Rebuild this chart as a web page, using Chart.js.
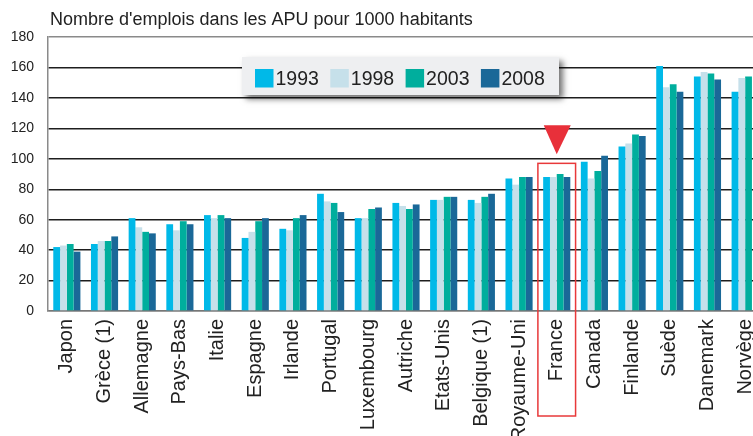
<!DOCTYPE html>
<html>
<head>
<meta charset="utf-8">
<script src="https://cdn.jsdelivr.net/npm/chart.js@4.4.1/dist/chart.umd.min.js"></script>
<style>
  html, body { margin: 0; padding: 0; background: #fff; overflow: hidden; }
  #wrap { position: relative; width: 764px; height: 436px; }
</style>
</head>
<body>
<div id="wrap"><canvas id="chart"></canvas></div>
<script>
// Data
const categories = ['Japon', 'Grèce (1)', 'Allemagne', 'Pays-Bas', 'Italie', 'Espagne', 'Irlande',
  'Portugal', 'Luxembourg', 'Autriche', 'Etats-Unis', 'Belgique (1)', 'Royaume-Uni', 'France',
  'Canada', 'Finlande', 'Suède', 'Danemark', 'Norvège'];
const years = ['1993', '1998', '2003', '2008'];
const v1993 = [42, 44, 61, 57, 63, 48, 54, 77, 61, 71, 73, 73, 87, 88, 98, 108, 161, 154, 144];
const v1998 = [43, 46, 55, 53, 61, 52, 53, 72, 61, 69, 73, 71, 83, 88, 87, 110, 147, 157, 153];
const v2003 = [44, 46, 52, 59, 63, 59, 61, 71, 67, 67, 75, 75, 88, 90, 92, 116, 149, 156, 154];
const v2008 = [39, 49, 51, 57, 61, 61, 63, 65, 68, 70, 75, 77, 88, 88, 102, 115, 144, 152, null];
const yTicks = [0, 20, 40, 60, 80, 100, 120, 140, 160, 180];
const titleText = "Nombre d'emplois dans les APU pour 1000 habitants";
const highlight = 'France';

const colors = ['#00b9e8', '#c6e0ea', '#00ae9d', '#1a6898'];
const FONT = '"Liberation Sans", Arial, sans-serif';

// Title, floating legend and France highlight
const extras = {
  id: 'extras',
  afterDraw(chart) {
    const ctx = chart.ctx;
    const area = chart.chartArea;
    const x = chart.scales.x, y = chart.scales.y;

    ctx.save();
    ctx.fillStyle = '#222';
    ctx.font = '18px ' + FONT;
    ctx.textBaseline = 'alphabetic';
    ctx.textAlign = 'left';
    ctx.fillText(titleText, area.left + 2, 25);

    // legend box
    const lx = area.left + 194, ly = 57, lw = 317, lh = 38;
    ctx.shadowColor = 'rgba(0,0,0,0.55)';
    ctx.shadowBlur = 6;
    ctx.shadowOffsetX = 4;
    ctx.shadowOffsetY = 4;
    ctx.fillStyle = '#eeeff1';
    ctx.fillRect(lx, ly, lw, lh);
    ctx.shadowColor = 'transparent';
    ctx.font = '19.5px ' + FONT;
    ctx.textBaseline = 'middle';
    chart.data.datasets.forEach((ds, i) => {
      const ix = lx + 13 + i * 75.3;
      ctx.fillStyle = ds.backgroundColor;
      ctx.fillRect(ix, ly + 12, 18.5, 18.5);
      ctx.fillStyle = '#222';
      ctx.fillText(ds.label, ix + 20.5, ly + 22.5);
    });

    // highlight box and arrow
    const idx = categories.indexOf(highlight);
    const cx = x.getPixelForValue(idx);
    const half = (area.right - area.left) / categories.length / 2;
    ctx.strokeStyle = '#e8393a';
    ctx.lineWidth = 1.5;
    ctx.strokeRect(cx - half, y.getPixelForValue(97), half * 2, 416 - y.getPixelForValue(97));
    ctx.fillStyle = '#e8303a';
    ctx.beginPath();
    ctx.moveTo(cx - 13, y.getPixelForValue(122));
    ctx.lineTo(cx + 14, y.getPixelForValue(122));
    ctx.lineTo(cx, y.getPixelForValue(103));
    ctx.closePath();
    ctx.fill();
    ctx.restore();
  }
};

const series = [v1993, v1998, v2003, v2008];

new Chart(document.getElementById('chart'), {
  type: 'bar',
  data: {
    labels: categories,
    datasets: years.map((yr, i) => ({
      label: yr,
      data: series[i],
      backgroundColor: colors[i],
      borderWidth: 0,
      categoryPercentage: 0.72,
      barPercentage: 1.0
    }))
  },
  options: {
    responsive: true,
    maintainAspectRatio: false,
    animation: false,
    layout: { padding: { top: 37, left: 0, right: 0, bottom: 0 } },
    plugins: {
      legend: { display: false },
      title: { display: false },
      tooltip: { enabled: false }
    },
    scales: {
      x: {
        grid: { display: false, drawTicks: false },
        border: { color: '#777', width: 1.5 },
        ticks: {
          autoSkip: false,
          maxRotation: 90,
          minRotation: 90,
          padding: 8,
          color: '#222',
          font: { family: FONT, size: 20 }
        },
        afterFit(scale) {
          scale.height = 125;
          scale.paddingLeft = 0;
          scale.paddingRight = 0;
        }
      },
      y: {
        min: 0,
        max: 180,
        afterBuildTicks(scale) {
          scale.ticks = yTicks.map(v => ({ value: v }));
        },
        grid: {
          drawTicks: false,
          lineWidth: 1.4,
          color: c => (c.tick.value === 0 || c.tick.value === 180) ? '#8a8a8a' : '#1e1e1e'
        },
        border: { color: '#8a8a8a', width: 1.5 },
        ticks: {
          padding: 14,
          color: '#222',
          font: { family: FONT, size: 14 }
        },
        afterFit(scale) {
          scale.width = 48;
        }
      }
    }
  },
  plugins: [extras]
});
</script>
</body>
</html>
